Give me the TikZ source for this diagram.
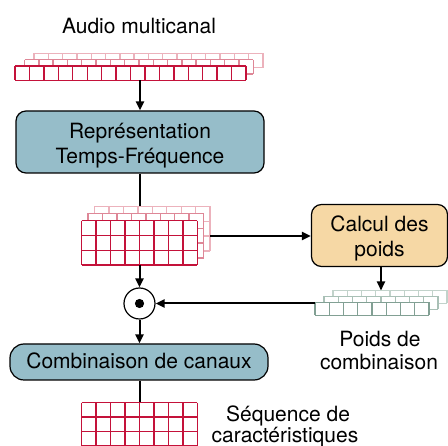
\documentclass[tikz,border=0pt]{standalone}
\usepackage{fontspec}
\setmainfont{TeX Gyre Heros}
\usetikzlibrary{arrows.meta}
\definecolor{redA}{HTML}{C4123A}
\definecolor{redB}{HTML}{DE8797}
\definecolor{redC}{HTML}{ECB2BC}
\definecolor{grnA}{HTML}{82A094}
\definecolor{grnB}{HTML}{A9C0B6}
\definecolor{grnC}{HTML}{C2D3CB}
\definecolor{boxblue}{HTML}{96BDC9}
\definecolor{boxsand}{HTML}{F6D8A5}
\newcommand\mycellgrid[7]{%
  \fill[white] (#1,#2) rectangle ({#1+#3*#5},{#2+#4*#6});
  \foreach \i in {0,...,#3} {\draw[#7] ({#1+\i*#5},#2) -- ({#1+\i*#5},{#2+#4*#6});}
  \foreach \j in {0,...,#4} {\draw[#7] (#1,{#2+\j*#6}) -- ({#1+#3*#5},{#2+\j*#6});}
}
\tikzset{
  procbox/.style={draw=black, line width=1.2pt, rounded corners=10pt, inner sep=0pt},
  lbl/.style={font=\fontsize{21}{25}\selectfont, anchor=base, inner sep=0pt},
  arr/.style={line width=2pt, -{Triangle[length=9pt,width=8pt]}},
  conn/.style={line width=2pt},
  gl/.style={line width=1.4pt}
}
\begin{document}
\begin{tikzpicture}[x=1pt,y=-1pt]
\useasboundingbox (0,0) rectangle (448,446);

% labels
\node[lbl] (laudio) at (139,33.5) {Audio multicanal};

% audio grid (3 layers)
\mycellgrid{34}{53.5}{16}{1}{14.3}{14.3}{gl,draw=redC}
\mycellgrid{24.5}{59.8}{16}{1}{14.3}{14.3}{gl,draw=redB}
\mycellgrid{15}{66}{16}{1}{14.44}{14.3}{gl,draw=redA}
\coordinate (audioB) at (140,80.3);

% Representation box
\node[procbox, fill=boxblue, minimum width=248pt, minimum height=62pt] (repr) at (140,142) {};
\node[lbl] (repr1) at (140,138.5) {Représentation};
\node[lbl] (repr2) at (140,164) {Temps-Fréquence};
\draw[arr] (audioB) -- (repr.north);

% TF grid
\coordinate (tfT) at (140,206.5);
\draw[conn] (repr.south) -- (tfT);
\mycellgrid{94.5}{206.5}{8}{3}{14.45}{14.8}{gl,draw=redC}
\mycellgrid{88}{213.5}{8}{3}{14.45}{14.8}{gl,draw=redB}
\mycellgrid{81.7}{220.7}{8}{3}{14.45}{14.8}{gl,draw=redA}
\coordinate (tfB) at (140,265.1);
\coordinate (tfR) at (210.1,236);

% Calcul des poids
\node[procbox, fill=boxsand, minimum width=136pt, minimum height=62pt] (calc) at (379.5,235.5) {};
\node[lbl] (calc1) at (379.5,231.7) {Calcul des};
\node[lbl] (calc2) at (379.5,256.5) {poids};
\draw[arr] (tfR) -- (tfR -| calc.west);

% weights grid
\coordinate (wT) at (381,290.5);
\draw[arr] (calc.south -| wT) -- (wT);
\mycellgrid{333}{290.5}{8}{1}{14.25}{13}{gl,draw=grnC}
\mycellgrid{324}{296.5}{8}{1}{14.25}{13}{gl,draw=grnB}
\mycellgrid{315}{302.3}{8}{1}{14.25}{13}{gl,draw=grnA}
\node[lbl] (wl1) at (380,346.5) {Poids de};
\node[lbl] (wl2) at (379,369.5) {combinaison};

% odot
\node[circle, draw=black, line width=1.2pt, fill=white, minimum size=31pt, inner sep=0pt] (odot) at (139.5,303.5) {};
\fill (odot.center) circle (4.6pt);
\coordinate (wL) at (315,303.5);
\draw[arr] (tfB -| odot) -- (odot.north);
\draw[arr] (wL) -- (odot.east);

% Combinaison
\node[procbox, rounded corners=14pt, fill=boxblue, minimum width=258pt, minimum height=36pt] (comb) at (139,362) {};
\node[lbl] (comb1) at (139,368.8) {Combinaison de canaux};
\draw[arr] (odot.south) -- (odot.south |- comb.north);

% feature grid
\coordinate (featT) at (140,402.7);
\draw[conn] (comb.south -| featT) -- (featT);
\mycellgrid{81.7}{402.7}{8}{3}{14.45}{14.5}{gl,draw=redA}
\node[lbl] (fl1) at (288,421.5) {Séquence de};
\node[lbl] (fl2) at (285,442.5) {caractéristiques};
\end{tikzpicture}
\end{document}
